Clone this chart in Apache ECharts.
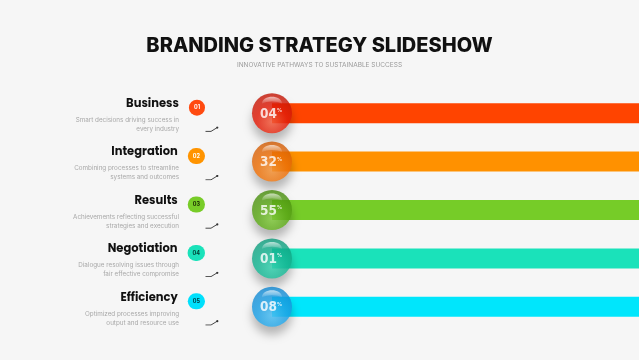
<!DOCTYPE html>
<html><head><meta charset="utf-8">
<script src="https://cdn.jsdelivr.net/npm/echarts@6/dist/echarts.min.js"></script>
<style>html,body{margin:0;padding:0;background:#f6f6f6}#c{width:639px;height:360px}</style>
</head><body><div id="c"></div>
<script>
const categories = ['Business', 'Integration', 'Results', 'Negotiation', 'Efficiency'];
const descLine1 = ['Smart decisions driving success in', 'Combining processes to streamline', 'Achievements reflecting successful', 'Dialogue resolving issues through', 'Optimized processes improving'];
const descLine2 = ['every industry', 'systems and outcomes', 'strategies and execution', 'fair effective compromise', 'output and resource use'];
const badgeLabels = ['01', '02', '03', '04', '05'];
const percentValues = [4, 32, 55, 1, 8];
const barLength = [100, 100, 100, 100, 100];
const barColors = ['#ff4400', '#ff9100', '#76cc28', '#1ae2ba', '#00e6fc'];
const sphereLight = ['#ff6040', '#ff9a3a', '#86d23e', '#36dab6', '#50c8ff'];
const sphereMain = ['#ec1e0a', '#f77408', '#5fae18', '#16bc98', '#1fa8ef'];
const sphereDark = ['#c01404', '#d05a04', '#468a0c', '#0d9a7a', '#1186d0'];
const badgeColors = ['#ff4a10', '#ff9400', '#78cc28', '#1ae2ba', '#00e0fc'];
const badgeText = ['#ffffff', '#ffffff', '#1a2a00', '#003a30', '#003a40'];

const arrowSvg = 'data:image/svg+xml;utf8,' + encodeURIComponent('<svg xmlns="http://www.w3.org/2000/svg" width="14" height="6" viewBox="0 0 14 6"><polyline points="0.5,5.2 6,5.2 12,1.5" fill="none" stroke="#333" stroke-width="0.9"/><circle cx="12.3" cy="1.4" r="1.1" fill="#333"/></svg>');

const rich = {
  t: { fontFamily: 'Poppins, Inter, sans-serif', fontWeight: 700, fontSize: 11.5, color: '#111', lineHeight: 23 },
  g: { width: 10, fontSize: 6, lineHeight: 23 },
  g2: { width: 14, fontSize: 6, lineHeight: 23 },
  d: { fontFamily: 'Inter, sans-serif', fontSize: 6.3, color: '#a8a8a8', lineHeight: 9 },
  s: { width: 40, fontSize: 6, lineHeight: 9 },
  s2: { width: 26, fontSize: 6, lineHeight: 9 },
  a: { width: 14, height: 6, fontSize: 6, lineHeight: 9, backgroundColor: { image: arrowSvg } }
};
badgeLabels.forEach((b, i) => {
  rich['b' + i] = { padding: [5, 5, 5, 5], lineHeight: 6, borderRadius: 8, backgroundColor: badgeColors[i], color: badgeText[i], fontSize: 5.5, fontWeight: 700, verticalAlign: 'bottom', fontFamily: 'Inter, sans-serif' };
});

const chart = echarts.init(document.getElementById('c'));
chart.setOption({
  backgroundColor: '#f6f6f6',
  animation: false,
  title: {
    text: 'BRANDING STRATEGY SLIDESHOW',
    subtext: 'INNOVATIVE PATHWAYS TO SUSTAINABLE SUCCESS',
    left: 'center', top: 31, itemGap: 6,
    textStyle: { fontFamily: 'Inter, sans-serif', fontWeight: 800, fontSize: 20, color: '#111' },
    subtextStyle: { fontFamily: 'Inter, sans-serif', fontSize: 6.5, color: '#9a9a9a' }
  },
  grid: { left: 272, right: 0, top: 89, height: 242 },
  xAxis: { type: 'value', min: 0, max: 100, show: false },
  yAxis: {
    type: 'category', data: categories, inverse: true,
    axisLine: { show: false }, axisTick: { show: false }, splitLine: { show: false },
    axisLabel: {
      margin: 53, align: 'right',
      formatter: (v, i) => '{t|' + v + '}{g| }{b' + i + '|' + badgeLabels[i] + '}{g2| }\n{d|' + descLine1[i] + '}{s| }\n{d|' + descLine2[i] + '}{s2| }{a| }',
      rich: rich
    }
  },
  series: [
    {
      type: 'bar', barWidth: 20, silent: true,
      data: barLength.map((v, i) => ({ value: v, itemStyle: { color: barColors[i] } }))
    },
    {
      type: 'scatter', symbol: 'circle', symbolSize: 40, z: 5,
      data: percentValues.map((v, i) => ({
        value: [0, categories[i]],
        pct: v,
        itemStyle: {
          color: { type: 'radial', x: 0.5, y: 0.72, r: 0.7, colorStops: [
            { offset: 0, color: sphereLight[i] }, { offset: 0.55, color: sphereMain[i] }, { offset: 1, color: sphereDark[i] }] },
          shadowBlur: 10, shadowOffsetY: 8, shadowColor: 'rgba(0,0,0,0.33)'
        }
      })),
      label: {
        show: true, position: 'inside', offset: [-1, 1],
        formatter: p => '{v|' + String(p.data.pct).padStart(2, '0') + '}{p|%}',
        rich: {
          v: { fontFamily: '"DejaVu Sans Condensed", "Liberation Sans Narrow", sans-serif', fontWeight: 700, fontSize: 13.5, color: '#fff' },
          p: { fontFamily: '"DejaVu Sans Condensed", sans-serif', fontWeight: 700, fontSize: 5.5, color: '#fff', padding: [0, 0, 7, 0] }
        }
      }
    },
    {
      type: 'scatter', silent: true, z: 6,
      symbol: 'path://M0,8 C0,-2 24,-2 24,8 C18,5 6,5 0,8 Z',
      symbolSize: [20, 7], symbolOffset: [0, -13],
      itemStyle: { color: { type: 'linear', x: 0, y: 0, x2: 0, y2: 1, colorStops: [
        { offset: 0, color: 'rgba(255,255,255,0.8)' }, { offset: 1, color: 'rgba(255,255,255,0.1)' }] } },
      data: percentValues.map((v, i) => [0, categories[i]])
    }
  ]
});
</script></body></html>
